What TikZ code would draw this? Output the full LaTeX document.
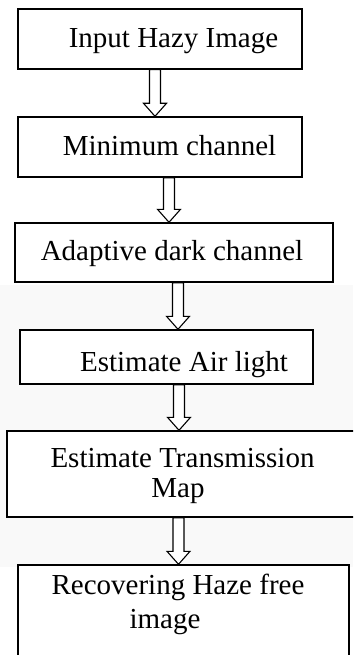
\documentclass[tikz,border=0pt]{standalone}
\usepackage{fontspec}
\setmainfont{Liberation Serif}
\usetikzlibrary{calc}
\definecolor{bggrey}{RGB}{249,249,249}
\newcommand\hollowarrow[3]{%
  \draw[arr] let \p1=(#1.south), \p2=(#2.north) in
    ({#3pt-5.5pt},\y1) -- ({#3pt-5.5pt},{\y2+13pt}) -- ({#3pt-11.5pt},{\y2+13pt})
    -- ({#3pt},\y2) -- ({#3pt+11.5pt},{\y2+13pt}) -- ({#3pt+5.5pt},{\y2+13pt})
    -- ({#3pt+5.5pt},\y1) -- cycle;}
\begin{document}
\begin{tikzpicture}[x=1pt,y=-1pt,
  box/.style={draw,line width=1.4pt,fill=white,inner sep=0pt},
  txt/.style={font=\fontsize{29}{33}\selectfont,inner sep=0pt,anchor=base},
  arr/.style={draw,line width=1.1pt,fill=white,line join=miter}]
\clip (0,0) rectangle (353,655);
\fill[bggrey] (0,285) rectangle (353,567);
\node[box,minimum width=284pt,minimum height=60pt] (b1) at (160,39) {};
\node[box,minimum width=284pt,minimum height=60pt] (b2) at (160,147) {};
\node[box,minimum width=318pt,minimum height=59pt] (b3) at (174,252.5) {};
\node[box,minimum width=293pt,minimum height=54pt] (b4) at (166.5,357) {};
\node[box,minimum width=353pt,minimum height=86pt] (b5) at (183.5,474) {};
\node[box,minimum width=331pt,minimum height=125pt] (b6) at (183.5,627.5) {};
\node[txt] (t1) at (173.5,47.5) {Input Hazy Image};
\node[txt] (t2) at (169.5,156) {Minimum channel};
\node[txt] (t3) at (172,260) {Adaptive dark channel};
\node[txt] (t4) at (184,371) {Estimate Air light};
\node[txt] (t5a) at (182.5,467) {Estimate Transmission};
\node[txt] (t5b) at (178,497) {Map};
\node[txt] (t6a) at (178,594) {Recovering Haze free};
\node[txt] (t6b) at (165,628) {image};
\hollowarrow{b1}{b2}{155}
\hollowarrow{b2}{b3}{169}
\hollowarrow{b3}{b4}{178}
\hollowarrow{b4}{b5}{179}
\hollowarrow{b5}{b6}{178.5}
\end{tikzpicture}
\end{document}
